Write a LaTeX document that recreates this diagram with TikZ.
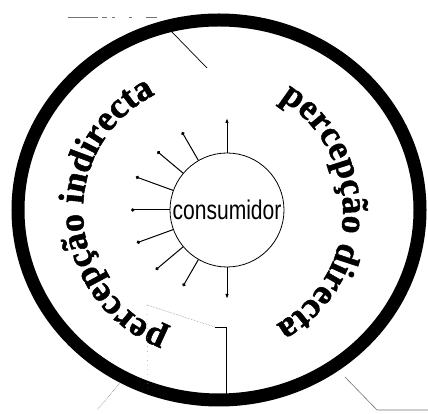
\documentclass[tikz,border=0pt]{standalone}
\usepackage{fontspec}
\setmainfont{Liberation Serif}
\newfontfamily\consfont[FakeStretch=0.78]{Liberation Sans}
\newfontfamily\arcfont[FakeBold=1.4]{Liberation Serif Bold}
\usetikzlibrary{arrows.meta, calc, decorations.text, shapes.geometric}

\begin{document}
\begin{tikzpicture}[x=1pt, y=1pt,
        ringbox/.style={ellipse, draw=black, line width=13pt, minimum width=402pt, minimum height=380pt, inner sep=0pt},
        consbox/.style={circle, draw=black, line width=0.8pt, minimum size=114pt, inner sep=0pt, font=\consfont\fontsize{27}{27}\selectfont},
        raydot/.style={draw=black, line width=1pt, -{Circle[length=3.4pt]}},
        rayarrow/.style={draw=black, line width=1pt, -{Latex[length=5pt, width=3.5pt]}},
        arcword/.style={decorate, decoration={text along path, text align=center, text={|\arcfont\fontsize{36}{36}\selectfont|#1}}},
        leader/.style={draw=black!55, line width=0.6pt}]
    \useasboundingbox (0,0) rectangle (428,414);

    \node [ringbox] (entorno) at (219,204) {};
    \node [consbox] (cons) at (227,204) {consumidor};

    % raios do consumidor
    \foreach \a/\l in {120/90, 140/91, 160/97, 180/96, 200/96, 220/93, 240/88} {
        \coordinate (e\a) at ($(cons)+(\a:\l)$);
        \path [raydot] (cons.\a) -- (e\a);
    }
    \coordinate (etop) at ($(cons)+(90:92)$);
    \coordinate (ebot) at ($(cons)+(270:89)$);
    \path [rayarrow] (cons.90) -- (etop);
    \path [rayarrow] (cons.270) -- (ebot);

    % textos curvos
    \coordinate (tc) at (213,203);
    \path [arcword={percepção indirecta}] ($(tc)+(256:130)$) arc [start angle=256, end angle=110, radius=130];
    \path [arcword={percepção directa}] ($(tc)+(63:130)$) arc [start angle=63, end angle=-65, radius=130];

    % linhas soltas
    \coordinate (ta) at (68,397);
    \coordinate (tb) at (157,397);
    \coordinate (tl1) at (170,384);
    \coordinate (tl2) at (207,346);
    \coordinate (bl1) at (120,31);
    \coordinate (bl2) at (97,4);
    \coordinate (br1) at (345,37);
    \coordinate (br2) at (377,4);
    \coordinate (br3) at (428,4);
    \coordinate (da) at (147,109);
    \coordinate (db) at (215,87);
    \coordinate (dc) at (226,87);
    \coordinate (dd) at (226,20);
    \coordinate (dv) at (148,22);
    \path [leader, dash pattern=on 30pt off 4pt on 5pt off 5pt on 3pt off 14pt on 3pt off 14pt on 16pt] (ta) -- (tb);
    \draw [line width=0.7pt] (tl1) -- (tl2);
    \path [leader, densely dotted] (bl1) -- (bl2);
    \path [leader] (br1) -- (br2) -- (br3);
    \path [leader, black!40, densely dotted] (da) -- (db);
    \path [leader, black!40, loosely dotted] (da) -- (dv);
    \draw [line width=0.8pt] (db) -- (dc) -- (dd);
\end{tikzpicture}
\end{document}
